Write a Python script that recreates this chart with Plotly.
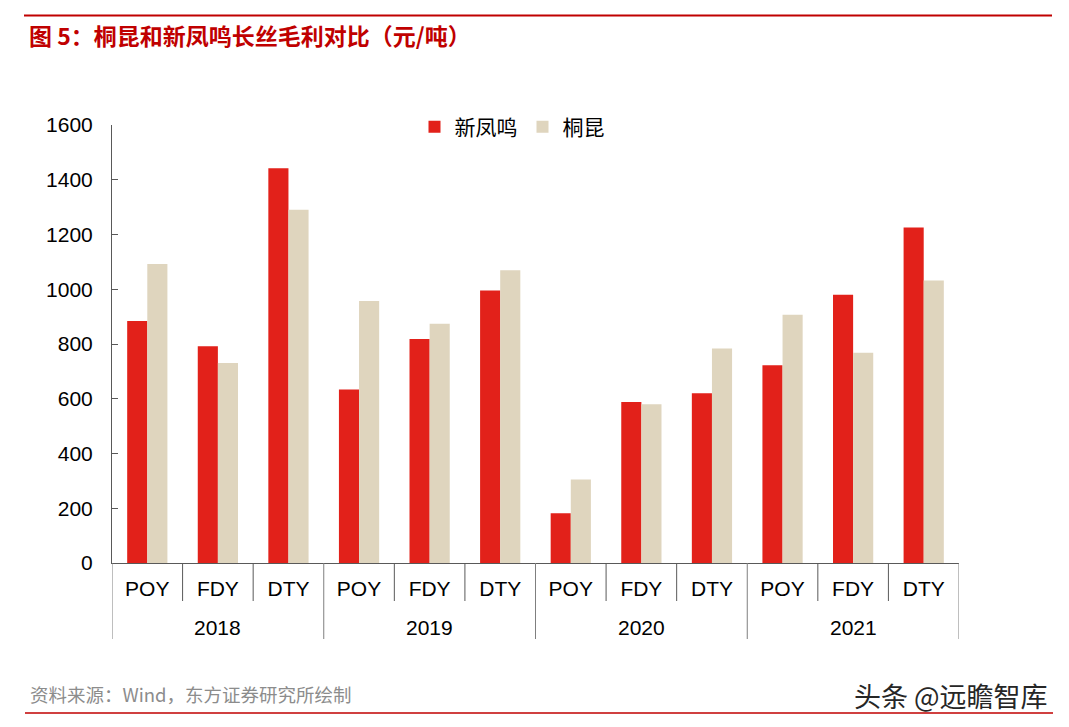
import plotly.graph_objects as go

# ---- data ----
years = ["2018", "2019", "2020", "2021"]
products = ["POY", "FDY", "DTY"]
xinfengming = [884, 792, 1442, 634, 818, 995, 182, 588, 620, 722, 980, 1226]
tongkun = [1092, 731, 1290, 957, 874, 1069, 305, 580, 784, 907, 768, 1032]
series_names = ["新凤鸣", "桐昆"]
y_ticks = [0, 200, 400, 600, 800, 1000, 1200, 1400, 1600]

title_text = "图 5：桐昆和新凤鸣长丝毛利对比（元/吨）"
source_text = "资料来源：Wind，东方证券研究所绘制"
watermark_text = "头条 @远瞻智库"

RED = "#E2211A"
CREAM = "#DFD5BE"
TITLE_RED = "#C00000"
AXIS = "#595959"
FONT = "Liberation Sans, Arial, Noto Sans CJK SC, sans-serif"
CJK = "Noto Sans CJK SC, sans-serif"

n = len(years) * len(products)
idx = list(range(n))
tick_text = [p for _ in years for p in products]

# the page body adds an 8px margin; work in page pixels and convert
OFF = 8
W, H = 1069 - OFF, 727 - OFF
L, T = 112 - OFF, 125 - OFF
R = W - (959 - OFF)
B = H - (563 - OFF)
PW, PH = W - L - R, H - T - B


def px(X):
    return (X - OFF - L) / PW


def py(Y):
    return (H - B - (Y - OFF)) / PH


fig = go.Figure()
fig.add_trace(go.Bar(x=idx, y=xinfengming, name=series_names[0],
                     marker=dict(color=RED, line=dict(width=0))))
fig.add_trace(go.Bar(x=idx, y=tongkun, name=series_names[1],
                     marker=dict(color=CREAM, line=dict(width=0))))

shapes = []
# category separators
for i in range(n + 1):
    xb = i - 0.5
    is_group = (i % len(products) == 0)
    shapes.append(dict(type="line", xref="x", yref="paper", x0=xb, x1=xb,
                       y0=0, y1=py(639) if is_group else py(601),
                       line=dict(color=AXIS if not is_group else "#7F7F7F", width=1)))
# decorative lines
shapes.append(dict(type="line", xref="paper", yref="paper", x0=px(24), x1=px(1052),
                   y0=py(15.5), y1=py(15.5), line=dict(color=TITLE_RED, width=2)))
shapes.append(dict(type="line", xref="paper", yref="paper", x0=px(25), x1=px(1053),
                   y0=py(713), y1=py(713), line=dict(color=TITLE_RED, width=1.5)))

annotations = []
for g, yr in enumerate(years):
    annotations.append(dict(x=g * len(products) + 1, y=py(627), xref="x", yref="paper",
                            text=yr, showarrow=False, xanchor="center", yanchor="middle",
                            font=dict(size=21, color="black", family=FONT)))
annotations.append(dict(x=px(28), y=py(694), xref="paper", yref="paper", text=source_text,
                        showarrow=False, xanchor="left", yanchor="middle",
                        font=dict(size=18.5, color="#8C8C8C", family=CJK)))
annotations.append(dict(x=px(1050), y=py(695), xref="paper", yref="paper", text=watermark_text,
                        showarrow=False, xanchor="right", yanchor="middle",
                        font=dict(size=27, color="#262626", family=CJK)))

fig.update_layout(
    width=W, height=H,
    margin=dict(l=L, r=R, t=T, b=B),
    paper_bgcolor="white", plot_bgcolor="white",
    barmode="group", bargap=0.43, bargroupgap=0,
    font=dict(family=FONT, size=21, color="black"),
    title=dict(text="<b>" + title_text + "</b>", x=(29 - OFF) / W, xanchor="left",
               xref="container", y=1 - (37 - OFF) / H, yanchor="middle", yref="container",
               font=dict(size=23, color=TITLE_RED, family=CJK)),
    legend=dict(orientation="h", x=px(512), xanchor="center", y=py(127), yanchor="middle",
                font=dict(size=21, family=CJK), bgcolor="rgba(0,0,0,0)",
                itemsizing="constant", itemwidth=30, tracegroupgap=0),
    showlegend=True,
    xaxis=dict(range=[-0.5, n - 0.5], tickvals=idx, ticktext=tick_text, ticks="",
               showline=True, linecolor=AXIS, linewidth=1, showgrid=False, zeroline=False,
               tickfont=dict(size=21, color="black"), ticklabelstandoff=7, fixedrange=True),
    yaxis=dict(range=[0, 1600], tickvals=y_ticks, ticks="inside", ticklen=6, tickcolor=AXIS,
               showline=True, linecolor=AXIS, linewidth=1, showgrid=False, zeroline=False,
               tickfont=dict(size=21, color="black"), ticklabelstandoff=14, fixedrange=True),
    shapes=shapes,
    annotations=annotations,
)

fig.write_html("out.html")
